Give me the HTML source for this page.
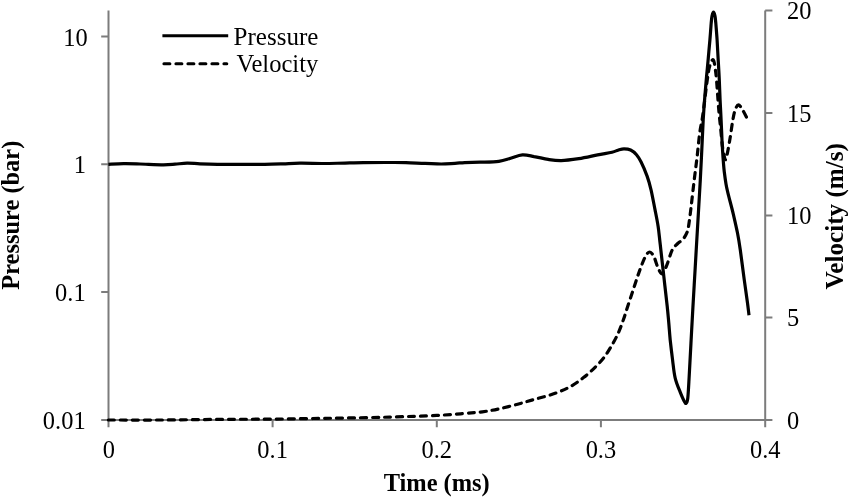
<!DOCTYPE html>
<html><head><meta charset="utf-8"><title>Pressure and Velocity</title>
<style>
html,body{margin:0;padding:0;background:#fff;}
body{width:850px;height:499px;overflow:hidden;}
svg{display:block;}
text{font-family:"Liberation Serif","Times New Roman",serif;font-size:26px;fill:#000;}
.b{font-weight:bold;}
</style></head><body>
<svg width="850" height="499" viewBox="0 0 850 499">
<rect width="850" height="499" fill="#fff"/>
<g stroke="#7c7c7c" stroke-width="2" fill="none">
<path d="M108.5 10.6V427.2"/>
<path d="M765.2 10.6V427.2"/>
<path d="M101.2 420H765.2"/>
<path d="M101.2 36.4H108.5M101.2 164.3H108.5M101.2 292.1H108.5"/>
<path d="M765.2 10.6H772.4M765.2 113H772.4M765.2 215.4H772.4M765.2 317.6H772.4M765.2 420H772.4"/>
<path d="M272.6 420V427.2M436.8 420V427.2M600.9 420V427.2"/>
</g>
<path d="M108.4 420.0 C117.0 420.0 141.4 420.1 160.0 420.0 C178.6 419.9 201.3 419.5 220.0 419.4 C238.7 419.2 253.4 419.3 272.2 419.1 C291.0 418.9 313.5 418.5 333.0 418.2 C352.5 417.9 372.1 417.6 389.4 417.1 C406.7 416.6 424.4 416.0 436.8 415.4 C449.2 414.8 455.9 414.2 463.5 413.6 C471.1 413.0 476.5 412.6 482.4 411.8 C488.3 411.0 492.9 410.2 498.8 408.9 C504.7 407.6 511.7 405.8 517.6 404.2 C523.5 402.6 528.2 401.2 534.1 399.5 C540.0 397.8 547.0 396.2 552.9 394.1 C558.8 392.0 564.3 389.9 569.4 387.1 C574.5 384.4 579.2 380.9 583.5 377.6 C587.8 374.3 591.8 370.6 595.3 367.1 C598.8 363.6 601.8 360.4 604.7 356.5 C607.6 352.6 610.5 347.6 612.9 343.5 C615.2 339.4 617.1 335.7 618.8 331.8 C620.5 327.9 622.0 323.6 623.3 320.0 C624.6 316.4 624.9 315.2 626.5 310.2 C628.1 305.2 631.0 296.5 633.1 290.1 C635.2 283.8 637.1 277.6 639.1 272.1 C641.1 266.6 643.3 260.5 645.1 257.1 C646.9 253.8 648.2 252.0 649.7 252.0 C651.2 252.0 652.7 254.4 654.1 257.1 C655.5 259.8 656.7 265.3 658.1 268.1 C659.5 270.9 661.0 274.4 662.5 273.7 C664.0 273.0 665.6 268.1 667.2 264.1 C668.8 260.2 670.5 253.3 672.2 250.0 C673.9 246.7 675.4 245.8 677.2 244.0 C679.0 242.2 681.5 241.0 683.2 239.0 C684.9 237.0 686.3 234.2 687.2 232.0 C688.1 229.8 687.9 230.3 688.6 226.0 C689.3 221.7 690.3 213.8 691.2 206.1 C692.1 198.4 693.2 188.4 694.2 180.1 C695.2 171.8 696.3 163.9 697.2 156.0 C698.1 148.1 698.9 138.8 699.8 132.4 C700.7 126.0 701.6 123.3 702.4 117.8 C703.2 112.3 704.0 105.9 704.8 99.4 C705.6 92.9 706.6 84.5 707.4 79.0 C708.2 73.5 708.6 69.7 709.6 66.5 C710.6 63.3 712.2 59.0 713.2 59.8 C714.2 60.6 714.9 66.2 715.6 71.2 C716.3 76.2 716.8 83.5 717.3 90.0 C717.8 96.5 718.2 103.7 718.8 110.0 C719.3 116.3 720.0 122.0 720.6 128.0 C721.2 134.0 721.8 141.3 722.4 146.0 C723.0 150.7 723.7 153.7 724.2 156.0 C724.7 158.3 725.1 160.0 725.6 159.7 C726.1 159.4 726.5 157.7 727.2 154.1 C728.0 150.5 729.2 143.4 730.1 138.1 C731.0 132.8 731.7 126.5 732.5 122.0 C733.3 117.5 733.9 113.7 734.9 110.8 C735.9 107.9 737.1 104.8 738.4 104.8 C739.7 104.8 741.5 108.3 742.9 110.5 C744.3 112.7 746.3 116.9 747.0 118.2" fill="none" stroke="#000" stroke-width="3.2" stroke-dasharray="6 6" stroke-linecap="round" stroke-linejoin="round"/>
<path d="M108.4 164.3 C110.9 164.2 118.2 163.8 123.5 163.7 C128.8 163.6 133.3 163.8 140.0 164.0 C146.7 164.2 157.7 164.8 163.5 164.8 C169.3 164.8 171.1 164.5 175.0 164.2 C178.9 163.9 182.8 163.2 187.0 163.1 C191.2 163.0 194.9 163.6 200.0 163.8 C205.1 164.0 210.9 164.2 217.6 164.3 C224.3 164.4 232.2 164.3 240.0 164.3 C247.8 164.3 257.5 164.4 264.7 164.3 C271.9 164.2 277.1 164.0 283.0 163.8 C288.9 163.6 293.2 163.2 300.0 163.2 C306.8 163.1 316.0 163.5 323.5 163.5 C331.0 163.5 338.3 163.2 345.0 163.1 C351.7 162.9 356.8 162.7 363.5 162.6 C370.2 162.5 377.9 162.5 385.0 162.5 C392.1 162.5 399.2 162.4 405.9 162.6 C412.6 162.8 419.1 163.2 425.0 163.4 C430.9 163.6 436.2 164.0 441.2 164.0 C446.2 164.0 451.1 163.5 455.0 163.3 C458.9 163.1 460.5 162.8 464.7 162.6 C468.9 162.4 474.3 162.4 480.0 162.2 C485.7 162.0 493.7 162.0 498.8 161.3 C503.9 160.6 506.7 159.3 510.6 158.2 C514.5 157.1 518.5 155.2 522.4 154.9 C526.3 154.6 529.8 155.8 534.1 156.6 C538.4 157.3 543.7 158.7 548.2 159.4 C552.7 160.1 556.1 160.7 561.2 160.6 C566.3 160.5 572.7 159.6 578.8 158.7 C584.9 157.8 592.1 156.0 597.6 154.9 C603.1 153.8 608.6 153.0 612.0 152.2 C615.4 151.4 616.0 150.8 618.0 150.2 C620.0 149.6 621.9 148.8 624.0 148.8 C626.1 148.8 628.5 149.0 630.6 150.0 C632.7 151.0 634.8 152.7 636.5 154.7 C638.2 156.7 639.3 158.4 641.1 162.0 C642.9 165.6 645.4 171.4 647.1 176.1 C648.8 180.8 649.8 184.4 651.1 190.1 C652.4 195.8 653.9 204.1 655.1 210.1 C656.3 216.1 657.2 220.4 658.1 226.2 C659.0 232.0 659.3 236.7 660.3 245.0 C661.2 253.3 662.6 265.9 663.8 276.1 C664.9 286.3 666.4 298.6 667.2 306.2 C668.0 313.8 668.2 316.4 668.7 322.0 C669.2 327.6 669.6 333.6 670.2 340.0 C670.9 346.4 671.8 353.8 672.6 360.1 C673.4 366.5 673.9 372.8 675.2 378.1 C676.5 383.5 678.7 388.4 680.2 392.2 C681.7 396.0 683.2 399.4 684.2 401.2 C685.2 403.0 685.6 403.7 686.2 403.2 C686.8 402.7 687.3 402.5 687.8 398.0 C688.3 393.5 688.6 386.8 689.2 376.0 C689.8 365.2 690.7 348.2 691.5 333.0 C692.3 317.8 693.3 300.5 694.2 285.0 C695.1 269.5 695.8 257.5 696.8 240.0 C697.8 222.5 699.5 195.0 700.3 180.0 C701.1 165.0 701.3 160.0 701.8 150.0 C702.3 140.0 702.7 128.8 703.2 120.0 C703.7 111.2 704.2 104.3 704.8 97.0 C705.4 89.7 706.0 82.5 706.6 76.0 C707.2 69.5 707.8 64.0 708.3 58.0 C708.8 52.0 709.4 45.8 709.9 40.0 C710.4 34.2 710.9 27.0 711.2 23.0 C711.6 19.0 711.6 17.8 712.0 16.0 C712.4 14.2 713.0 12.2 713.5 12.2 C714.0 12.2 714.6 14.2 715.0 16.0 C715.4 17.8 715.4 19.0 715.8 23.0 C716.1 27.0 716.7 33.8 717.1 40.0 C717.5 46.2 717.8 53.3 718.2 60.0 C718.6 66.7 719.0 73.3 719.3 80.0 C719.6 86.7 719.8 93.3 720.1 100.0 C720.4 106.7 720.8 112.5 721.1 120.0 C721.5 127.5 721.9 138.3 722.2 145.0 C722.6 151.7 722.9 155.5 723.2 160.0 C723.6 164.5 723.8 168.0 724.3 172.0 C724.8 176.0 725.4 180.3 726.0 184.0 C726.6 187.7 727.0 189.1 728.2 194.1 C729.4 199.1 731.8 207.6 733.3 214.1 C734.8 220.6 736.3 227.0 737.5 233.0 C738.7 239.0 739.2 242.2 740.3 250.0 C741.4 257.9 743.1 271.4 744.3 280.1 C745.5 288.8 746.6 296.4 747.4 302.2 C748.2 308.0 748.7 313.0 749.0 315.2" fill="none" stroke="#000" stroke-width="3.2" stroke-linecap="butt" stroke-linejoin="round"/>
<path d="M162.4 35.7H228.2" stroke="#000" stroke-width="3" fill="none"/>
<path d="M163.9 63.8H226.8" stroke="#000" stroke-width="3" stroke-dasharray="6 6" stroke-linecap="round" fill="none"/>
<text text-anchor="start" transform="translate(233.6 44.6) scale(0.962 1)">Pressure</text>
<text text-anchor="start" transform="translate(236.4 72.2) scale(0.945 1)">Velocity</text>
<text text-anchor="end" transform="translate(87.6 45.6) scale(0.94 1)">10</text>
<text text-anchor="end" transform="translate(86 173.4) scale(0.94 1)">1</text>
<text text-anchor="end" transform="translate(85.6 301.2) scale(0.94 1)">0.1</text>
<text text-anchor="end" transform="translate(85.6 429) scale(0.94 1)">0.01</text>
<text text-anchor="start" transform="translate(787 19.4) scale(0.94 1)">20</text>
<text text-anchor="start" transform="translate(787 121.8) scale(0.94 1)">15</text>
<text text-anchor="start" transform="translate(787 224.2) scale(0.94 1)">10</text>
<text text-anchor="start" transform="translate(787 326.4) scale(0.94 1)">5</text>
<text text-anchor="start" transform="translate(787 428.8) scale(0.94 1)">0</text>
<text text-anchor="middle" transform="translate(108.8 458.3) scale(0.94 1)">0</text>
<text text-anchor="middle" transform="translate(272.6 458.3) scale(0.94 1)">0.1</text>
<text text-anchor="middle" transform="translate(436.8 458.3) scale(0.94 1)">0.2</text>
<text text-anchor="middle" transform="translate(600.9 458.3) scale(0.94 1)">0.3</text>
<text text-anchor="middle" transform="translate(765.2 458.3) scale(0.94 1)">0.4</text>
<text class="b" text-anchor="middle" transform="translate(436.7 491.2) scale(0.94 1)">Time (ms)</text>
<text class="b" text-anchor="middle" transform="translate(18.9 215.2) rotate(-90) scale(0.94 1)">Pressure (bar)</text>
<text class="b" text-anchor="middle" transform="translate(842.8 216.3) rotate(-90) scale(0.968 1)">Velocity (m/s)</text>
</svg>
</body></html>
